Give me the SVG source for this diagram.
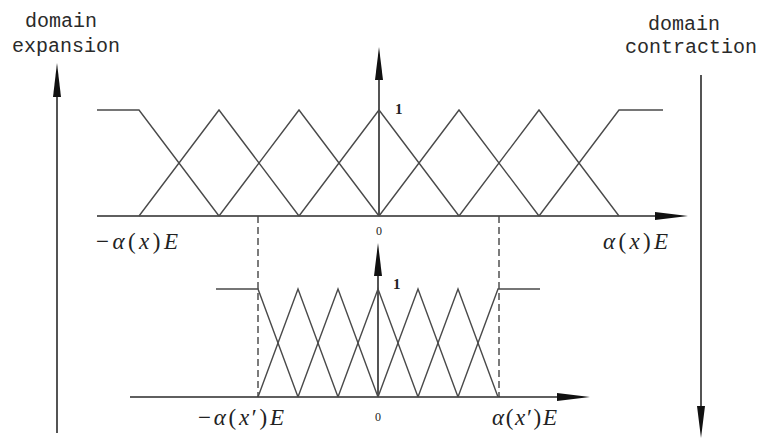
<svg xmlns="http://www.w3.org/2000/svg" width="759" height="439" viewBox="0 0 759 439">
<style>
.mf{fill:none;stroke:#4a4a4a;stroke-width:1.4}
.ax{fill:none;stroke:#2a2a2a;stroke-width:1.6}
.dash{fill:none;stroke:#444;stroke-width:1.4;stroke-dasharray:7 4}
.ah{fill:#111}
.lbl{font-family:"Liberation Mono","DejaVu Sans Mono",monospace;font-size:20px;fill:#2a2a2a}
.math{font-family:"Liberation Serif","Times New Roman",serif;font-size:23px;fill:#222}
.num{font-family:"Liberation Serif","Times New Roman",serif;font-size:15px;fill:#222}
.small{font-family:"Liberation Serif","Times New Roman",serif;font-size:12px;fill:#222}
</style>
<rect width="759" height="439" fill="#fff"/>

<g id="expansion">
<text class="lbl" x="61" y="27" text-anchor="middle">domain</text>
<text class="lbl" x="66" y="52" text-anchor="middle">expansion</text>
<line class="ax" x1="57" y1="433" x2="57" y2="90"/>
<polygon class="ah" points="57,63 61,97 53,97"/>
</g>

<g id="contraction">
<text class="lbl" x="684" y="30" text-anchor="middle">domain</text>
<text class="lbl" x="691" y="53" text-anchor="middle">contraction</text>
<line class="ax" x1="701" y1="75" x2="701" y2="412"/>
<polygon class="ah" points="701,438 697,406 705,406"/>
</g>

<g id="top-chart">
<line class="ax" x1="97" y1="216" x2="665" y2="216"/>
<polygon class="ah" points="688,216 655,212 655,220"/>
<line class="ax" x1="379" y1="216" x2="379" y2="75"/>
<polygon class="ah" points="379,47 375,80 383,80"/>
<polyline class="mf" points="97,110 139,110 219,216"/>
<polyline class="mf" points="139,216 219,110 299,216"/>
<polyline class="mf" points="219,216 299,110 379,216"/>
<polyline class="mf" points="299,216 379,110 459,216"/>
<polyline class="mf" points="379,216 459,110 539,216"/>
<polyline class="mf" points="459,216 539,110 619,216"/>
<polyline class="mf" points="539,216 619,110 663,110"/>
<text class="num" x="395" y="114" font-weight="bold">1</text>
<text class="small" x="379" y="235" text-anchor="middle">0</text>
<text class="math" x="96" y="249" textLength="82" lengthAdjust="spacing">−<tspan font-style="italic">α</tspan>(<tspan font-style="italic">x</tspan>)<tspan font-style="italic">E</tspan></text>
<text class="math" x="603" y="249" textLength="65" lengthAdjust="spacing"><tspan font-style="italic">α</tspan>(<tspan font-style="italic">x</tspan>)<tspan font-style="italic">E</tspan></text>
</g>

<g id="connectors">
<line class="dash" x1="258" y1="216" x2="258" y2="397"/>
<line class="dash" x1="499" y1="216" x2="499" y2="397"/>
</g>

<g id="bottom-chart">
<line class="ax" x1="130" y1="397" x2="565" y2="397"/>
<polygon class="ah" points="590,397 557,393 557,401"/>
<line class="ax" x1="378" y1="397" x2="378" y2="270"/>
<polygon class="ah" points="378,243 374,276 382,276"/>
<polyline class="mf" points="216,289 258,289 298,397"/>
<polyline class="mf" points="258,397 298,289 338,397"/>
<polyline class="mf" points="298,397 338,289 378,397"/>
<polyline class="mf" points="338,397 378,289 418,397"/>
<polyline class="mf" points="378,397 418,289 458,397"/>
<polyline class="mf" points="418,397 458,289 498,397"/>
<polyline class="mf" points="458,397 498,289 540,289"/>
<text class="num" x="393" y="289" font-weight="bold">1</text>
<text class="small" x="378" y="421" text-anchor="middle">0</text>
<text class="math" x="198" y="425" textLength="86" lengthAdjust="spacing">−<tspan font-style="italic">α</tspan>(<tspan font-style="italic">x</tspan>′)<tspan font-style="italic">E</tspan></text>
<text class="math" x="492" y="425" textLength="65" lengthAdjust="spacing"><tspan font-style="italic">α</tspan>(<tspan font-style="italic">x</tspan>′)<tspan font-style="italic">E</tspan></text>
</g>
</svg>
